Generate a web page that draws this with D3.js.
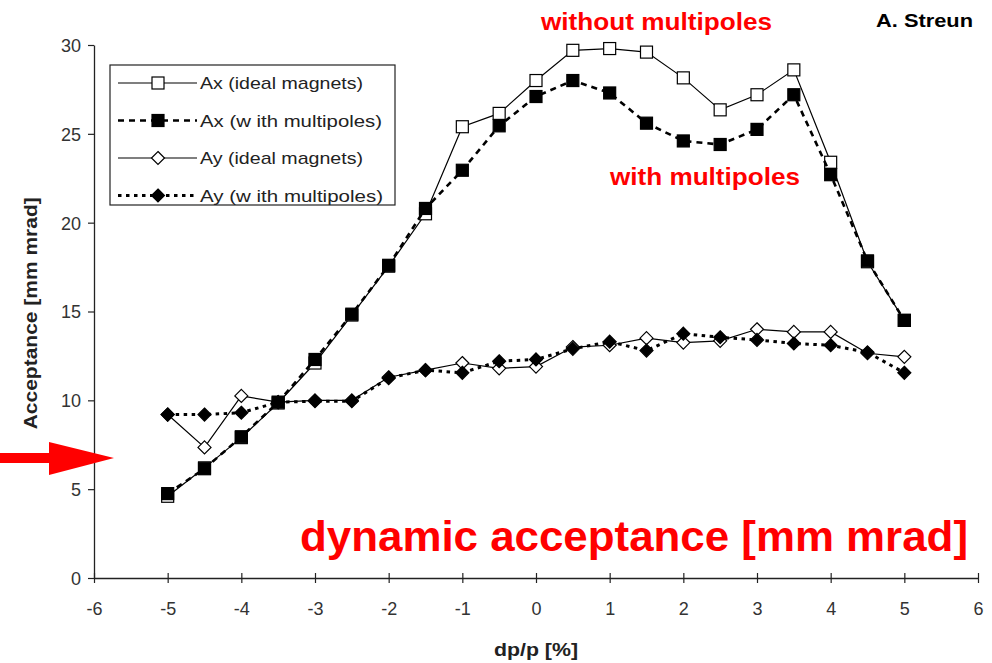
<!DOCTYPE html>
<html>
<head>
<meta charset="utf-8">
<script src="https://cdn.jsdelivr.net/npm/d3@7"></script>
<style>
  html, body { margin: 0; padding: 0; background: #fff; }
  svg { display: block; font-family: "Liberation Sans", Arial, sans-serif; }
</style>
</head>
<body>
<svg id="chart" width="992" height="663"></svg>
<script>
// momentum deviation dp/p [%]
const dpp = [-5, -4.5, -4, -3.5, -3, -2.5, -2, -1.5, -1, -0.5, 0, 0.5, 1, 1.5, 2, 2.5, 3, 3.5, 4, 4.5, 5];

// acceptance values [mm mrad]
const axIdeal = [4.6, 6.2, 7.9, 9.85, 12.1, 14.8, 17.55, 20.5, 25.4, 26.15, 28.0, 29.7, 29.8, 29.6, 28.15, 26.35, 27.2, 28.6, 23.4, 17.8, 14.5];
const axMulti = [4.75, 6.15, 7.95, 9.9, 12.3, 14.85, 17.6, 20.8, 22.95, 25.45, 27.1, 28.0, 27.3, 25.6, 24.6, 24.4, 25.25, 27.2, 22.7, 17.85, 14.5];
const ayIdeal = [9.2, 7.35, 10.25, 9.9, 10.0, 10.0, 11.3, 11.7, 12.1, 11.8, 11.9, 13.0, 13.1, 13.5, 13.25, 13.35, 14.0, 13.85, 13.85, 12.65, 12.45];
const ayMulti = [9.2, 9.2, 9.3, 9.9, 9.95, 9.95, 11.25, 11.7, 11.55, 12.2, 12.3, 12.9, 13.3, 12.8, 13.75, 13.55, 13.4, 13.2, 13.1, 12.7, 11.55];

const xTicks = [-6, -5, -4, -3, -2, -1, 0, 1, 2, 3, 4, 5, 6];
const yTicks = [0, 5, 10, 15, 20, 25, 30];

const seriesNames = ["Ax (ideal magnets)", "Ax (w ith multipoles)", "Ay (ideal magnets)", "Ay (w ith multipoles)"];
const legendWidths = [163, 182, 163, 183];

const svg = d3.select("#chart");

const x = d3.scaleLinear().domain([-6, 6]).range([94, 978]);
const y = d3.scaleLinear().domain([0, 30]).range([578, 45]);

// plain hyphen-minus for negative tick labels
const fmt = d => String(d);

// axes
const axisColor = "#222";
const gx = svg.append("g").attr("transform", `translate(0,${y(0)})`)
  .call(d3.axisBottom(x).tickValues(xTicks).tickSize(6).tickSizeOuter(0).tickFormat(fmt));
gx.selectAll(".tick line").attr("y1", -5).attr("y2", 5);
const gy = svg.append("g").attr("transform", `translate(${x(-6)},0)`)
  .call(d3.axisLeft(y).tickValues(yTicks).tickSize(6).tickSizeOuter(0).tickFormat(fmt));
[gx, gy].forEach(g => {
  g.select(".domain").attr("stroke", axisColor).attr("stroke-width", 1.3);
  g.selectAll(".tick line").attr("stroke", axisColor).attr("stroke-width", 1.2);
  g.selectAll(".tick text").attr("fill", "#333").style("font-size", "18px")
    .style("font-family", "'Liberation Sans', Arial, sans-serif");
});
gx.selectAll(".tick text").attr("dy", "0").attr("y", 37);
gy.selectAll(".tick text").attr("x", -13).attr("dy", "0.36em");

// axis titles
svg.append("text").attr("x", x(0)).attr("y", 656).attr("text-anchor", "middle")
  .style("font-size", "18px").style("font-weight", "bold").attr("fill", "#222")
  .attr("textLength", 84).attr("lengthAdjust", "spacingAndGlyphs").text("dp/p [%]");
svg.append("text").attr("transform", `translate(37,${y(14.9)}) rotate(-90)`).attr("text-anchor", "middle")
  .style("font-size", "18px").style("font-weight", "bold").attr("fill", "#222")
  .attr("textLength", 232).attr("lengthAdjust", "spacingAndGlyphs").text("Acceptance [mm mrad]");

// series definitions
const series = [
  { name: seriesNames[0], vals: axIdeal, width: 1.2, dash: null, shape: "square", fill: "#fff" },
  { name: seriesNames[1], vals: axMulti, width: 2.6, dash: "6,5", shape: "square", fill: "#000" },
  { name: seriesNames[2], vals: ayIdeal, width: 1.2, dash: null, shape: "diamond", fill: "#fff" },
  { name: seriesNames[3], vals: ayMulti, width: 3, dash: "3.5,4.5", shape: "diamond", fill: "#000" }
];

const line = d3.line().x(d => x(d[0])).y(d => y(d[1]));

function marker(g, shape, fill, cx, cy) {
  if (shape === "square") {
    g.append("rect").attr("x", cx - 6).attr("y", cy - 6).attr("width", 12).attr("height", 12)
      .attr("fill", fill).attr("stroke", "#000").attr("stroke-width", 1.2);
  } else {
    const r = 6.5;
    g.append("path").attr("d", `M${cx},${cy - r}L${cx + r},${cy}L${cx},${cy + r}L${cx - r},${cy}Z`)
      .attr("fill", fill).attr("stroke", "#000").attr("stroke-width", 1.2);
  }
}

series.forEach(s => {
  const g = svg.append("g");
  const pts = dpp.map((d, i) => [d, s.vals[i]]);
  g.append("path").attr("d", line(pts)).attr("fill", "none").attr("stroke", "#000")
    .attr("stroke-width", s.width).attr("stroke-dasharray", s.dash);
  pts.forEach(p => marker(g, s.shape, s.fill, x(p[0]), y(p[1])));
});

// legend
const lg = svg.append("g");
lg.append("rect").attr("x", 110).attr("y", 65).attr("width", 285).attr("height", 140)
  .attr("fill", "#fff").attr("stroke", "#222").attr("stroke-width", 1.2);
series.forEach((s, i) => {
  const ly = 83 + i * 37.5;
  lg.append("line").attr("x1", 118).attr("x2", 197).attr("y1", ly).attr("y2", ly)
    .attr("stroke", "#000").attr("stroke-width", s.width).attr("stroke-dasharray", s.dash);
  marker(lg, s.shape, s.fill, 158, ly);
  lg.append("text").attr("x", 200).attr("y", ly).attr("dy", "0.36em")
    .style("font-size", "17px").attr("fill", "#222")
    .attr("textLength", legendWidths[i]).attr("lengthAdjust", "spacingAndGlyphs").text(s.name);
});

// annotations
svg.append("text").attr("x", 541).attr("y", 30).style("font-size", "24px").style("font-weight", "bold")
  .attr("fill", "#ff0000").attr("textLength", 231).attr("lengthAdjust", "spacingAndGlyphs").text("without multipoles");
svg.append("text").attr("x", 610).attr("y", 185).style("font-size", "24px").style("font-weight", "bold")
  .attr("fill", "#ff0000").attr("textLength", 190).attr("lengthAdjust", "spacingAndGlyphs").text("with multipoles");
svg.append("text").attr("x", 876).attr("y", 27).style("font-size", "18px")
  .style("font-weight", "bold").attr("fill", "#000").attr("textLength", 97).attr("lengthAdjust", "spacingAndGlyphs").text("A. Streun");
svg.append("text").attr("x", 300).attr("y", 551).style("font-size", "43px")
  .style("font-weight", "bold").attr("fill", "#ff0000").attr("textLength", 668).attr("lengthAdjust", "spacingAndGlyphs")
  .text("dynamic acceptance [mm mrad]");

// arrow pointing at the axis
svg.append("path").attr("d", "M0,453L49,453L49,442L114,458L49,475L49,463L0,463Z").attr("fill", "#ff0000");
</script>
</body>
</html>
